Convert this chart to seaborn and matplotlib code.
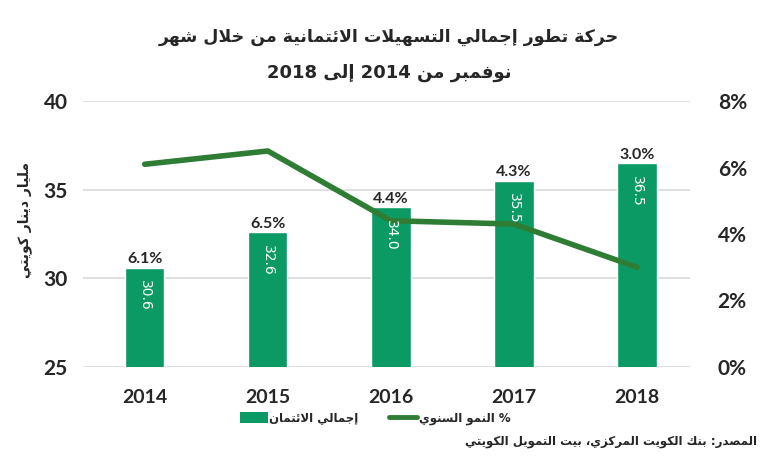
import matplotlib
matplotlib.use('Agg')
import matplotlib.pyplot as plt
import seaborn as sns
import pandas as pd
from matplotlib.patches import Patch
from matplotlib.lines import Line2D
from matplotlib.ticker import PercentFormatter

years = ['2014', '2015', '2016', '2017', '2018']
credit = [30.6, 32.6, 34.0, 35.5, 36.5]
growth = [6.1, 6.5, 4.4, 4.3, 3.0]

title1 = 'حركة تطور إجمالي التسهيلات الائتمانية من خلال شهر'
title2 = 'نوفمبر من 2014 إلى 2018'
ylabel_txt = 'مليار دينار كويتي'
bar_label = 'إجمالي الائتمان'
line_label = '% النمو السنوي'
source_txt = 'المصدر: بنك الكويت المركزي، بيت التمويل الكويتي'

bar_color = '#0b9a64'
line_color = '#2f7d35'

# matplotlib has no arabic shaping, so map letters to presentation forms by hand
AR_FORMS = {
    '\u0621': (0xFE80, 1), '\u0622': (0xFE81, 2), '\u0623': (0xFE83, 2), '\u0624': (0xFE85, 2),
    '\u0625': (0xFE87, 2), '\u0626': (0xFE89, 4), '\u0627': (0xFE8D, 2), '\u0628': (0xFE8F, 4),
    '\u0629': (0xFE93, 2), '\u062A': (0xFE95, 4), '\u062B': (0xFE99, 4), '\u062C': (0xFE9D, 4),
    '\u062D': (0xFEA1, 4), '\u062E': (0xFEA5, 4), '\u062F': (0xFEA9, 2), '\u0630': (0xFEAB, 2),
    '\u0631': (0xFEAD, 2), '\u0632': (0xFEAF, 2), '\u0633': (0xFEB1, 4), '\u0634': (0xFEB5, 4),
    '\u0635': (0xFEB9, 4), '\u0636': (0xFEBD, 4), '\u0637': (0xFEC1, 4), '\u0638': (0xFEC5, 4),
    '\u0639': (0xFEC9, 4), '\u063A': (0xFECD, 4), '\u0641': (0xFED1, 4), '\u0642': (0xFED5, 4),
    '\u0643': (0xFED9, 4), '\u0644': (0xFEDD, 4), '\u0645': (0xFEE1, 4), '\u0646': (0xFEE5, 4),
    '\u0647': (0xFEE9, 4), '\u0648': (0xFEED, 2), '\u0649': (0xFEEF, 2), '\u064A': (0xFEF1, 4),
}
LAM_ALEF = {'\u0622': 0xFEF5, '\u0623': 0xFEF7, '\u0625': 0xFEF9, '\u0627': 0xFEFB}


def shape_word(w):
    units = []
    i = 0
    while i < len(w):
        c = w[i]
        if c == '\u0644' and i + 1 < len(w) and w[i + 1] in LAM_ALEF:
            units.append((LAM_ALEF[w[i + 1]], 2))
            i += 2
            continue
        units.append(AR_FORMS.get(c, c))
        i += 1
    out = []
    for k, u in enumerate(units):
        if isinstance(u, str):
            out.append(u)
            continue
        base, n = u
        prev = units[k - 1] if k > 0 else None
        nxt = units[k + 1] if k + 1 < len(units) else None
        jp = isinstance(prev, tuple) and prev[1] == 4
        jn = n == 4 and isinstance(nxt, tuple) and nxt[1] > 1
        if jp and jn:
            off = 3
        elif jp:
            off = 1 if n > 1 else 0
        elif jn:
            off = 2
        else:
            off = 0
        out.append(chr(base + off))
    return ''.join(out)


def ar(text):
    vis = []
    for t in text.split(' '):
        if any('\u0600' <= ch <= '\u06FF' for ch in t):
            vis.append(shape_word(t)[::-1])
        else:
            vis.append(t)
    return ' '.join(vis[::-1])


sns.set_style('white')
plt.rcParams['font.family'] = ['DejaVu Sans']
num_font = ['Lato', 'DejaVu Sans']

df = pd.DataFrame({'year': years, 'credit': credit, 'growth': growth})

fig, ax = plt.subplots(figsize=(7.7, 4.62), dpi=100)
fig.subplots_adjust(left=0.108, right=0.896, bottom=0.206, top=0.781)

sns.barplot(data=df, x='year', y='credit', color=bar_color, saturation=1, width=0.32, ax=ax, zorder=2)
ax.set_ylim(25, 40)
ax.set_yticks([25, 30, 35, 40])
ax.set_xlim(-0.5, 4.43)
ax.yaxis.grid(True, color='#d9d9d9', lw=1.2, zorder=0)
ax.set_axisbelow(True)
ax.set_xlabel('')
ax.set_ylabel('')
for s in ax.spines.values():
    s.set_visible(False)
ax.tick_params(axis='y', length=0, pad=11)
ax.tick_params(axis='x', length=0, pad=16)
for lab in ax.get_yticklabels():
    lab.set_fontfamily(num_font)
    lab.set_fontweight('bold')
    lab.set_fontsize(15)
for lab in ax.get_xticklabels():
    lab.set_fontfamily(num_font)
    lab.set_fontweight('bold')
    lab.set_fontsize(14)

ax2 = ax.twinx()
sns.lineplot(data=df, x='year', y=[g / 100 for g in growth], color=line_color, lw=4, ax=ax2, sort=False)
ax2.set_ylim(0, 0.08)
ax2.set_yticks([0, 0.02, 0.04, 0.06, 0.08])
ax2.yaxis.set_major_formatter(PercentFormatter(1.0, decimals=0))
ax2.set_ylabel('')
ax2.grid(False)
for s in ax2.spines.values():
    s.set_visible(False)
ax2.tick_params(axis='y', length=0, pad=20)
for lab in ax2.get_yticklabels():
    lab.set_fontfamily(num_font)
    lab.set_fontweight('bold')
    lab.set_fontsize(15)

# labels go on ax2 so they sit above the line, positioned in bar coordinates
for i, (v, g) in enumerate(zip(credit, growth)):
    ax2.annotate(f'{v:.1f}', (i, v), xycoords=ax.transData, xytext=(0, -9), textcoords='offset points',
                 rotation=270, ha='center', va='top', color='white', fontsize=10, zorder=5)
    ax2.annotate(f'{g:.1f}%', (i, v), xycoords=ax.transData, xytext=(0, 1), textcoords='offset points',
                 ha='center', va='bottom', fontsize=11.5, fontweight='bold', family=num_font)

fig.text(0.505, 0.92, ar(title1), ha='center', va='center', fontsize=12.5, fontweight='bold')
fig.text(0.505, 0.842, ar(title2), ha='center', va='center', fontsize=13, fontweight='bold')
fig.text(0.032, 0.524, ar(ylabel_txt), rotation=90, ha='center', va='center', fontsize=10, fontweight='bold')

handles = [Patch(facecolor=bar_color, edgecolor='none'),
           Line2D([0], [0], color=line_color, lw=3.5)]
fig.legend(handles, [ar(bar_label), ar(line_label)], loc='center', bbox_to_anchor=(0.487, 0.095),
           ncol=2, frameon=False, handlelength=2.4, handleheight=1.0, handletextpad=0.1,
           columnspacing=2.6, prop={'weight': 'bold', 'size': 8.5})

fig.text(0.983, 0.045, ar(source_txt), ha='right', va='center', fontsize=8.5, fontweight='bold')

fig.savefig('out.png', dpi=100)
